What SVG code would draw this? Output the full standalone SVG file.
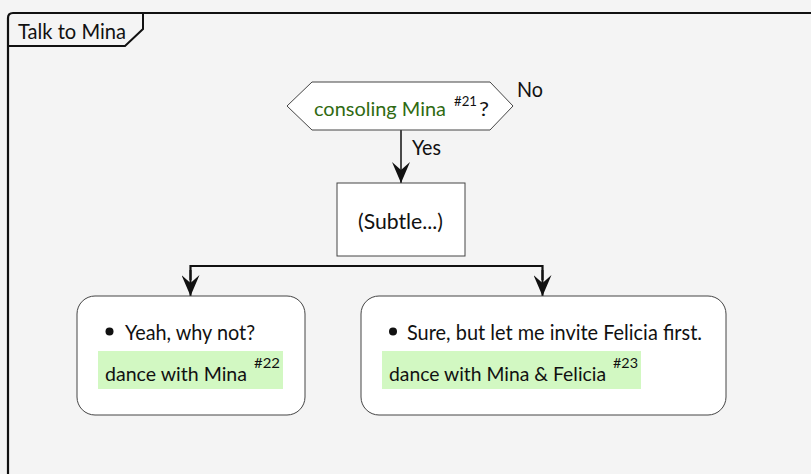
<svg xmlns="http://www.w3.org/2000/svg" width="811" height="474" viewBox="0 0 811 474">
<defs>
<style>
text{font-family:Lato,"Liberation Sans",sans-serif;font-size:21.5px;fill:#111}
.fit{font-size:20px}
.sup{font-size:14px}
.grn{fill:#2F6A12}
.node{fill:#fff;stroke:#444;stroke-width:1}
.hl{fill:#D2F8C2}
.wire{stroke:#111;fill:none}
</style>
<marker id="ah" viewBox="0 0 21 18" refX="21" refY="9" markerWidth="21" markerHeight="18" markerUnits="userSpaceOnUse" orient="auto">
<path d="M0 0 L8 9 L0 18 L21 9 Z" fill="#111"/>
</marker>
</defs>
<rect width="811" height="474" fill="#F4F4F4"/>
<g id="frame">
<path d="M8 480 L8 18 Q8 13 13 13 L820 13" fill="none" stroke="#111" stroke-width="2.2"/>
<path d="M8 46 L125 46 L143 29 L143 13" fill="none" stroke="#111" stroke-width="2"/>
<text x="18" y="39" textLength="108" lengthAdjust="spacingAndGlyphs">Talk to Mina</text>
</g>
<g id="connectors">
<line class="wire" x1="401" y1="130" x2="401" y2="183" stroke-width="1.5" marker-end="url(#ah)"/>
<path class="wire" d="M190.5 280 L190.5 266 L542.5 266 L542.5 280" stroke-width="2.2"/>
<line class="wire" x1="190.5" y1="270" x2="190.5" y2="296" stroke-width="2" marker-end="url(#ah)"/>
<line class="wire" x1="542.5" y1="270" x2="542.5" y2="296" stroke-width="2" marker-end="url(#ah)"/>
<text x="412" y="155" textLength="29" lengthAdjust="spacingAndGlyphs">Yes</text>
<text x="517" y="97" textLength="26" lengthAdjust="spacingAndGlyphs">No</text>
</g>
<g id="decision">
<polygon class="node" points="287,106 312,82 490,82 513,106 490,130 312,130" stroke="#555"/>
<text class="grn fit" x="314" y="116" textLength="132" lengthAdjust="spacingAndGlyphs">consoling Mina</text>
<text class="sup" x="454" y="106" textLength="23" lengthAdjust="spacingAndGlyphs">#21</text>
<text class="fit" x="479" y="116" textLength="10" lengthAdjust="spacingAndGlyphs">?</text>
</g>
<g id="subtle">
<rect class="node" x="337" y="183" width="128" height="73"/>
<text x="358" y="229" textLength="85" lengthAdjust="spacingAndGlyphs">(Subtle...)</text>
</g>
<g id="choice-left">
<rect class="node" x="77" y="296" width="228" height="119" rx="18"/>
<circle cx="109.5" cy="331.5" r="4" fill="#111"/>
<text x="125" y="340" textLength="130" lengthAdjust="spacingAndGlyphs">Yeah, why not?</text>
<rect class="hl" x="98" y="351" width="185" height="38"/>
<text class="fit" x="105" y="381" textLength="142" lengthAdjust="spacingAndGlyphs">dance with Mina</text>
<text class="sup" x="254" y="368" textLength="26" lengthAdjust="spacingAndGlyphs">#22</text>
</g>
<g id="choice-right">
<rect class="node" x="361" y="296" width="365" height="119" rx="18"/>
<circle cx="393" cy="331.5" r="4" fill="#111"/>
<text x="407" y="340" textLength="295" lengthAdjust="spacingAndGlyphs">Sure, but let me invite Felicia first.</text>
<rect class="hl" x="382" y="351" width="259" height="38"/>
<text class="fit" x="389" y="381" textLength="217" lengthAdjust="spacingAndGlyphs">dance with Mina &amp; Felicia</text>
<text class="sup" x="613" y="368" textLength="25" lengthAdjust="spacingAndGlyphs">#23</text>
</g>
</svg>
